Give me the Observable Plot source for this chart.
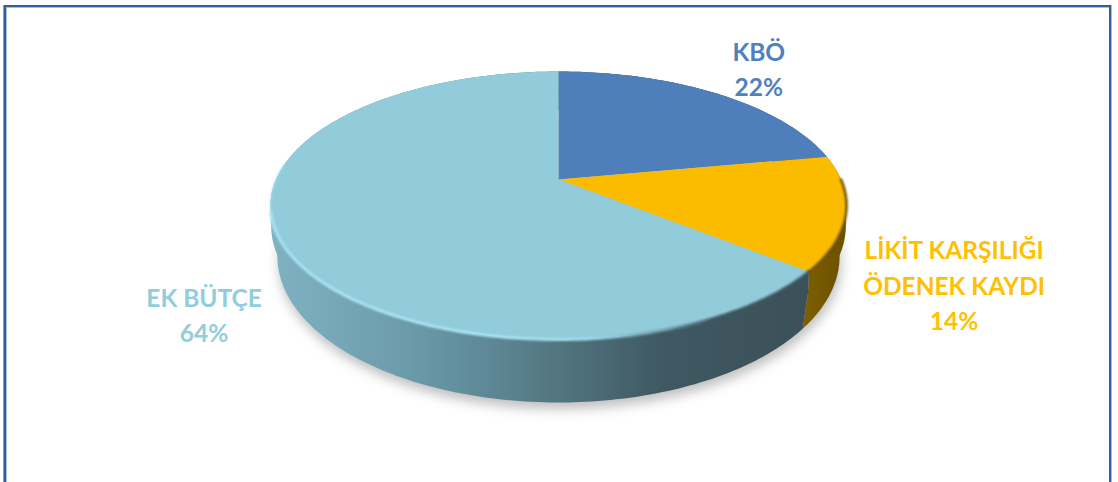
<!DOCTYPE html>
<html><head><meta charset="utf-8">
<script src="https://cdn.jsdelivr.net/npm/d3@7"></script>
<script src="https://cdn.jsdelivr.net/npm/@observablehq/plot@0.6"></script>
<style>
html,body{margin:0;padding:0;background:#fff;overflow:hidden;width:1118px;height:482px}
#frame{position:absolute;left:4px;top:5px;width:1103px;height:520px;border:2px solid #33609b;box-shadow:inset 1px 1px 0 #a9bdd6, -1px 0 0 #7f9cc2, 1px 0 0 #a9bdd6;box-sizing:content-box;pointer-events:none}
#chart{position:absolute;left:0;top:0}
</style></head><body>
<div id="chart"></div><div id="frame"></div>
<script>
const categories = ["KBÖ", "LİKİT KARŞILIĞI\nÖDENEK KAYDI", "EK BÜTÇE"];
const shares = [22, 14, 64];
const topColors = ["#4e7fba", "#fbbc00", "#92cbda"];
const labelColors = ["#4f81bd", "#ffc000", "#92cddc"];

// Perspective model in unit-ellipse coordinates of the top face
const apexY = 0.194, squash = 0.445, pxRx = 288, pxRy = 134;
const lowRx = 0.976, lowCy = -0.38, lowRy = 1.09;
const midRx = 0.997, midCy = -0.165, overlap = 0.03;
function rim(f) {
  const a = 2 * Math.PI * f;
  const dx = Math.sin(a) / pxRx, dy = squash * Math.cos(a) / pxRy;
  const A = dx * dx + dy * dy, B = 2 * apexY * dy, C = apexY * apexY - 1;
  const s = (-B + Math.sqrt(B * B - 4 * A * C)) / (2 * A);
  return [s * dx, apexY + s * dy];
}
const low = ([x, y]) => [x * lowRx, lowCy + y * lowRy];
const mid = ([x, y]) => [x * midRx, midCy + y];
const midUp = ([x, y]) => [x * midRx, midCy + overlap + y];
const steps = (a, b) => d3.range(0, 1.0001, 1 / Math.max(2, Math.ceil((b - a) * 360))).map(t => a + (b - a) * t);

let cum = 0;
const slices = categories.map((c, i) => {
  const a = cum / 100; cum += shares[i]; const b = cum / 100;
  return {name: c, share: shares[i], a, b, mid: (a + b) / 2, i};
});
const row = ([x, y]) => ({x, y});
const topPoly = s => [row([0, apexY]), ...steps(s.a, s.b).map(f => row(rim(f)))];
const band = (s, upper, lower) => {
  const fs = steps(s.a, s.b);
  return [...fs.map(f => row(upper(rim(f)))), ...fs.slice().reverse().map(f => row(lower(rim(f))))];
};
const same = p => p;
const wholeLow = steps(0, 1).map(f => row(low(rim(f))));
const arc = (a, b) => steps(a, b).map(f => row(rim(f)));

const defs = () => {
  const ns = "http://www.w3.org/2000/svg";
  const d = document.createElementNS(ns, "defs");
  const grad = (id, stops) => {
    const g = document.createElementNS(ns, "linearGradient");
    g.setAttribute("id", id); g.setAttribute("gradientUnits", "userSpaceOnUse");
    g.setAttribute("x1", 270); g.setAttribute("x2", 846); g.setAttribute("y1", 0); g.setAttribute("y2", 0);
    for (const [o, c] of stops) {
      const s = document.createElementNS(ns, "stop");
      s.setAttribute("offset", o); s.setAttribute("stop-color", c); g.appendChild(s);
    }
    d.appendChild(g);
  };
  grad("sideLight", [[0, "#7fb2c3"], [.2, "#6f9fae"], [.36, "#5f8b98"], [.5, "#527580"], [.68, "#3f5862"], [1, "#3a4e57"]]);
  grad("sideGold", [[0, "#7f6000"], [.92, "#7f6000"], [1, "#6a5000"]]);
  grad("sideBlue", [[0, "#2f4d70"], [1, "#2f4d70"]]);
  grad("rimLight", [[0, "#a8e2f2"], [.35, "#aae6f6"], [.55, "#a0dcec"], [.68, "#6f9aa8"], [.78, "#3f5862"], [1, "#3f5862"]]);
  return d;
};
const blur = r => (index, scales, values, dims, context, next) => {
  const g = next(index, scales, values, dims, context);
  g.style.filter = `blur(${r}px)`;
  return g;
};
const shift = (x, y) => (index, scales, values, dims, context, next) => {
  const g = next(index, scales, values, dims, context);
  g.style.filter = "blur(6px)";
  g.setAttribute("transform", `translate(${x},${y})`);
  return g;
};
const poly = (pts, fill, extra = {}) => Plot.line(pts, {x: "x", y: "y", fill, stroke: "none", curve: "linear", ...extra});
const lab = (s, dx, dy) => {
  const [x, y] = rim(s.mid);
  return Plot.text([s], {
    x: () => x, y: () => y, dx, dy,
    text: d => `${d.name}\n${d.share}%`,
    fill: labelColors[s.i], fontSize: 24.5, fontWeight: 700, fontFamily: "Lato", lineHeight: 1.44, textAnchor: "middle"
  });
};
const sideFills = ["url(#sideBlue)", "url(#sideGold)", "url(#sideLight)"];

const chart = Plot.plot({
  width: 1118, height: 482,
  margin: 0,
  style: {background: "transparent"},
  x: {domain: [-1, 1], range: [270, 846], axis: null},
  y: {domain: [-1, 1], range: [339, 71], axis: null},
  marks: [
    defs,
    poly(wholeLow, "#8a8a8a", {render: shift(2, 7), fillOpacity: 0.55}),
    ...slices.flatMap(s => [
      poly(band(s, midUp, low), sideFills[s.i]),
      poly(band(s, same, mid), sideFills[s.i])
    ]),
    ...slices.map(s => poly(topPoly(s), topColors[s.i])),
    Plot.line(arc(0.36, 0.71), {x: "x", y: "y", stroke: "url(#rimLight)", strokeWidth: 3, curve: "linear", render: blur(1.2)}),
    Plot.line(arc(0.69, 0.77), {x: "x", y: "y", stroke: "#a8e2f2", strokeOpacity: 0.55, strokeWidth: 2, curve: "linear", render: blur(1.2)}),
    Plot.line(arc(0.25, 0.36), {x: "x", y: "y", stroke: "#6f5400", strokeWidth: 2.5, curve: "linear", render: blur(1.2)}),
    lab(slices[0], 41, -27),
    lab(slices[1], 108, 71),
    lab(slices[2], -75, 75)
  ]
});
document.getElementById("chart").appendChild(chart);
</script>
</body></html>
